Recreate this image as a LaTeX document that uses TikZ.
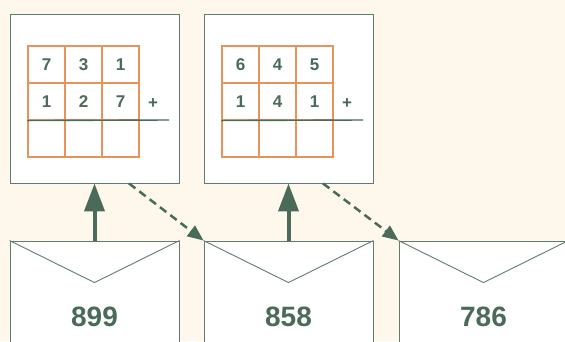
\documentclass[tikz,border=0pt]{standalone}
\usepackage{fontspec}
\setmainfont{Liberation Sans}
\usetikzlibrary{arrows.meta}
\definecolor{bgc}{HTML}{FEF8EC}
\definecolor{edgec}{HTML}{5E7D6E}
\definecolor{txtc}{HTML}{4A6A5A}
\definecolor{gridc}{HTML}{E8935C}
\tikzset{
  panel/.style={draw=edgec, line width=0.9pt, fill=white, minimum width=169pt, minimum height=169pt, inner sep=0pt},
  envbox/.style={draw=edgec, line width=0.9pt, fill=white, minimum width=169pt, minimum height=110pt, inner sep=0pt},
  cell/.style={draw=gridc, line width=1.1pt, minimum size=37pt, inner sep=0pt, text=txtc, font=\fontsize{17}{17}\selectfont\bfseries},
  plus/.style={text=txtc, font=\fontsize{17}{17}\selectfont\bfseries, inner sep=0pt},
  envnum/.style={text=txtc, font=\fontsize{28}{28}\selectfont\bfseries, inner sep=0pt},
  uparrow/.style={draw=txtc, line width=4pt, -{Triangle[length=28pt,width=20pt]}},
  dasharrow/.style={draw=txtc, line width=2.5pt, dash pattern=on 8pt off 5pt, -{Triangle[length=16pt,width=13pt]}},
  sumline/.style={draw=txtc, line width=1.4pt}
}
\begin{document}
\begin{tikzpicture}[x=1pt,y=-1pt]
\useasboundingbox[fill=bgc] (0,0) rectangle (565,341);
% panels
\node[panel] (box1) at (94.5,98.5) {};
\node[panel] (box2) at (288.5,98.5) {};
% envelopes
\node[envbox] (env1) at (94.5,296) {};
\node[envbox] (env2) at (288.5,296) {};
\node[envbox] (env3) at (483.5,296) {};
\foreach \e in {env1,env2,env3}{
  \draw[edgec, line width=0.9pt] (\e.north west) -- ([yshift=-42pt]\e.north) -- (\e.north east);
}
\node[envnum] (n1) at (94.5,317) {899};
\node[envnum] (n2) at (288.5,317) {858};
\node[envnum] (n3) at (483.5,317) {786};
% grid 1
\foreach \d [count=\i] in {7,3,1}{ \node[cell] (a1-\i) at (28+18.5+37*\i-37,64.5) {\d}; }
\foreach \d [count=\i] in {1,2,7}{ \node[cell] (a2-\i) at (28+18.5+37*\i-37,101.5) {\d}; }
\foreach \i in {1,2,3}{ \node[cell] (a3-\i) at (28+18.5+37*\i-37,138.5) {}; }
\node[plus] (p1) at (153,104) {+};
\coordinate (l1e) at (169,120);
\draw[sumline] (a2-1.south west) -- (l1e);
% grid 2
\foreach \d [count=\i] in {6,4,5}{ \node[cell] (b1-\i) at (222+18.5+37*\i-37,64.5) {\d}; }
\foreach \d [count=\i] in {1,4,1}{ \node[cell] (b2-\i) at (222+18.5+37*\i-37,101.5) {\d}; }
\foreach \i in {1,2,3}{ \node[cell] (b3-\i) at (222+18.5+37*\i-37,138.5) {}; }
\node[plus] (p2) at (347,104) {+};
\coordinate (l2e) at (363,120);
\draw[sumline] (b2-1.south west) -- (l2e);
% arrows
\draw[uparrow] (env1.north) -- (box1.south);
\draw[uparrow] (env2.north) -- (box2.south);
\draw[dasharrow] ([xshift=34.5pt]box1.south) -- (env2.north west);
\draw[dasharrow] ([xshift=34.5pt]box2.south) -- (env3.north west);
\end{tikzpicture}
\end{document}
